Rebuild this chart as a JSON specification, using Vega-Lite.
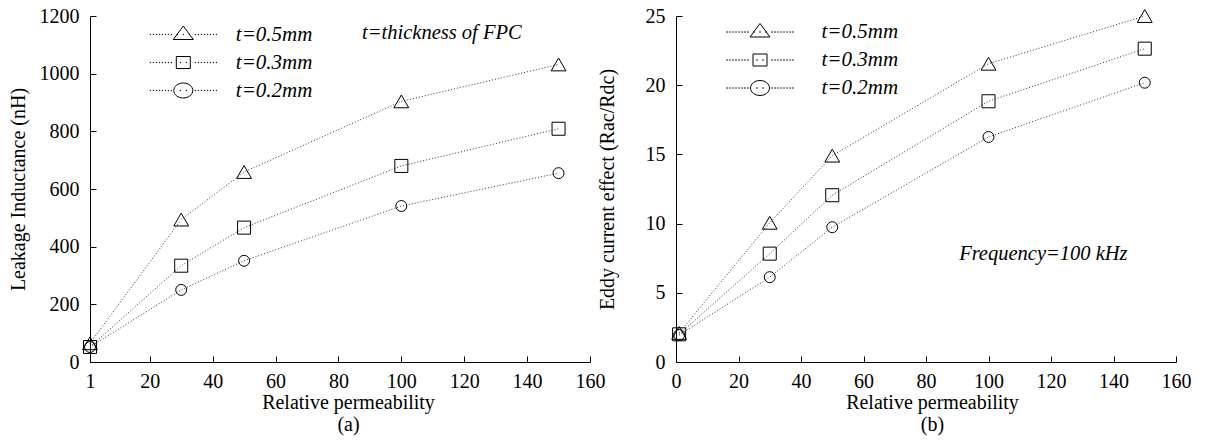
{
  "$schema": "https://vega.github.io/schema/vega-lite/v6.json",
  "padding": {"left": 8, "top": 6, "right": 5, "bottom": 5},
  "background": "white",
  "datasets": {
    "leak": [
      {"t": "t=0.5mm", "mu": 1, "L": 65},
      {"t": "t=0.5mm", "mu": 30, "L": 494},
      {"t": "t=0.5mm", "mu": 50, "L": 659},
      {"t": "t=0.5mm", "mu": 100, "L": 904},
      {"t": "t=0.5mm", "mu": 150, "L": 1032},
      {"t": "t=0.3mm", "mu": 1, "L": 52},
      {"t": "t=0.3mm", "mu": 30, "L": 334},
      {"t": "t=0.3mm", "mu": 50, "L": 466},
      {"t": "t=0.3mm", "mu": 100, "L": 680},
      {"t": "t=0.3mm", "mu": 150, "L": 809},
      {"t": "t=0.2mm", "mu": 1, "L": 52},
      {"t": "t=0.2mm", "mu": 30, "L": 250},
      {"t": "t=0.2mm", "mu": 50, "L": 351},
      {"t": "t=0.2mm", "mu": 100, "L": 541},
      {"t": "t=0.2mm", "mu": 150, "L": 655}
    ],
    "eddy": [
      {"t": "t=0.5mm", "mu": 1, "R": 2.1},
      {"t": "t=0.5mm", "mu": 30, "R": 10.06},
      {"t": "t=0.5mm", "mu": 50, "R": 14.91},
      {"t": "t=0.5mm", "mu": 100, "R": 21.55},
      {"t": "t=0.5mm", "mu": 150, "R": 25.0},
      {"t": "t=0.3mm", "mu": 1, "R": 2.0},
      {"t": "t=0.3mm", "mu": 30, "R": 7.83},
      {"t": "t=0.3mm", "mu": 50, "R": 12.05},
      {"t": "t=0.3mm", "mu": 100, "R": 18.84},
      {"t": "t=0.3mm", "mu": 150, "R": 22.64},
      {"t": "t=0.2mm", "mu": 1, "R": 1.95},
      {"t": "t=0.2mm", "mu": 30, "R": 6.13},
      {"t": "t=0.2mm", "mu": 50, "R": 9.74},
      {"t": "t=0.2mm", "mu": 100, "R": 16.26},
      {"t": "t=0.2mm", "mu": 150, "R": 20.18}
    ]
  },
  "hconcat": [
    {
      "width": 500,
      "height": 346,
      "resolve": {"scale": {"shape": "independent"}, "legend": {"shape": "independent"}},
      "layer": [
        {
          "data": {"name": "leak"},
          "mark": {"type": "line", "stroke": "#333", "strokeWidth": 1, "strokeDash": [1, 2]},
          "encoding": {
            "x": {"field": "mu", "type": "quantitative", "scale": {"domain": [1, 160], "nice": false, "zero": false},
                  "axis": {"values": [1, 20, 40, 60, 80, 100, 120, 140, 160], "title": ["Relative permeability", "(a)"], "titleX": 258}},
            "y": {"field": "L", "type": "quantitative", "scale": {"domain": [0, 1200], "nice": false},
                  "axis": {"values": [0, 200, 400, 600, 800, 1000, 1200], "title": "Leakage Inductance (nH)", "titlePadding": 11}},
            "detail": {"field": "t", "type": "nominal"}
          }
        },
        {
          "data": {"name": "leak"},
          "mark": {"type": "point", "filled": false, "color": "black", "strokeWidth": 1, "opacity": 1},
          "encoding": {
            "x": {"field": "mu", "type": "quantitative"},
            "y": {"field": "L", "type": "quantitative"},
            "shape": {"field": "t", "type": "nominal", "scale": {"domain": ["t=0.5mm", "t=0.3mm", "t=0.2mm"], "range": ["triangle-up", "square", "circle"]}, "legend": null},
            "size": {"field": "t", "type": "ordinal", "sort": "descending", "scale": {"range": [220, 120, 150]}, "legend": null}
          }
        },
        {
          "data": {"name": "leak"},
          "transform": [{"filter": "false"}],
          "mark": {"type": "point", "filled": false, "color": "black", "strokeWidth": 1, "opacity": 0},
          "encoding": {
            "x": {"field": "mu", "type": "quantitative"},
            "y": {"field": "L", "type": "quantitative"},
            "shape": {"field": "t", "type": "nominal",
                  "scale": {"domain": ["t=0.5mm", "t=0.3mm", "t=0.2mm"], "range": [
                    "M0,-8.5L10,5L-10,5ZM-33.25,-0.25h0.5v0.5h-0.5ZM-30.25,-0.25h0.5v0.5h-0.5ZM-27.25,-0.25h0.5v0.5h-0.5ZM-24.25,-0.25h0.5v0.5h-0.5ZM-21.25,-0.25h0.5v0.5h-0.5ZM-18.25,-0.25h0.5v0.5h-0.5ZM-15.25,-0.25h0.5v0.5h-0.5ZM-12.25,-0.25h0.5v0.5h-0.5ZM-6.25,-0.25h0.5v0.5h-0.5ZM-0.25,-0.25h0.5v0.5h-0.5ZM5.75,-0.25h0.5v0.5h-0.5ZM11.75,-0.25h0.5v0.5h-0.5ZM14.75,-0.25h0.5v0.5h-0.5ZM17.75,-0.25h0.5v0.5h-0.5ZM20.75,-0.25h0.5v0.5h-0.5ZM23.75,-0.25h0.5v0.5h-0.5ZM26.75,-0.25h0.5v0.5h-0.5ZM29.75,-0.25h0.5v0.5h-0.5ZM32.75,-0.25h0.5v0.5h-0.5Z",
                    "M-7,-6h14v12h-14ZM-33.25,-0.25h0.5v0.5h-0.5ZM-30.25,-0.25h0.5v0.5h-0.5ZM-27.25,-0.25h0.5v0.5h-0.5ZM-24.25,-0.25h0.5v0.5h-0.5ZM-21.25,-0.25h0.5v0.5h-0.5ZM-18.25,-0.25h0.5v0.5h-0.5ZM-15.25,-0.25h0.5v0.5h-0.5ZM-12.25,-0.25h0.5v0.5h-0.5ZM-3.25,-0.25h0.5v0.5h-0.5ZM2.75,-0.25h0.5v0.5h-0.5ZM11.75,-0.25h0.5v0.5h-0.5ZM14.75,-0.25h0.5v0.5h-0.5ZM17.75,-0.25h0.5v0.5h-0.5ZM20.75,-0.25h0.5v0.5h-0.5ZM23.75,-0.25h0.5v0.5h-0.5ZM26.75,-0.25h0.5v0.5h-0.5ZM29.75,-0.25h0.5v0.5h-0.5ZM32.75,-0.25h0.5v0.5h-0.5Z",
                    "M9.5,0A9.5,7.5 0 1,1 -9.5,0A9.5,7.5 0 1,1 9.5,0ZM-33.25,-0.25h0.5v0.5h-0.5ZM-30.25,-0.25h0.5v0.5h-0.5ZM-27.25,-0.25h0.5v0.5h-0.5ZM-24.25,-0.25h0.5v0.5h-0.5ZM-21.25,-0.25h0.5v0.5h-0.5ZM-18.25,-0.25h0.5v0.5h-0.5ZM-15.25,-0.25h0.5v0.5h-0.5ZM-12.25,-0.25h0.5v0.5h-0.5ZM-3.25,-0.25h0.5v0.5h-0.5ZM2.75,-0.25h0.5v0.5h-0.5ZM11.75,-0.25h0.5v0.5h-0.5ZM14.75,-0.25h0.5v0.5h-0.5ZM17.75,-0.25h0.5v0.5h-0.5ZM20.75,-0.25h0.5v0.5h-0.5ZM23.75,-0.25h0.5v0.5h-0.5ZM26.75,-0.25h0.5v0.5h-0.5ZM29.75,-0.25h0.5v0.5h-0.5ZM32.75,-0.25h0.5v0.5h-0.5Z"
                  ]},
                  "legend": {"orient": "none", "legendX": 82.8, "legendY": 8, "title": null, "rowPadding": 6, "labelOffset": 42, "padding": 0,
                             "labelFontStyle": "italic", "labelFontSize": 21, "labelColor": "black", "symbolOpacity": 1,
                             "symbolStrokeColor": "black", "symbolStrokeWidth": 1, "symbolFillColor": "transparent", "symbolSize": 4}}
          }
        },
        {
          "data": {"values": [{}]},
          "mark": {"type": "text", "fontSize": 20.5, "fontStyle": "italic", "align": "left", "baseline": "middle", "color": "black"},
          "encoding": {
            "x": {"datum": 87.5},
            "y": {"datum": 1140},
            "text": {"value": "t=thickness of FPC"}
          }
        }
      ]
    },
    {
      "width": 500,
      "height": 346,
      "resolve": {"scale": {"shape": "independent"}, "legend": {"shape": "independent"}},
      "layer": [
        {
          "data": {"name": "eddy"},
          "mark": {"type": "line", "stroke": "#333", "strokeWidth": 1, "strokeDash": [1, 2]},
          "encoding": {
            "x": {"field": "mu", "type": "quantitative", "scale": {"domain": [0, 160], "nice": false, "zero": false},
                  "axis": {"values": [0, 20, 40, 60, 80, 100, 120, 140, 160], "title": ["Relative permeability", "(b)"], "titleX": 256}},
            "y": {"field": "R", "type": "quantitative", "scale": {"domain": [0, 25], "nice": false},
                  "axis": {"values": [0, 5, 10, 15, 20, 25], "title": "Eddy current effect (Rac/Rdc)", "titlePadding": 28}},
            "detail": {"field": "t", "type": "nominal"}
          }
        },
        {
          "data": {"name": "eddy"},
          "mark": {"type": "point", "filled": false, "color": "black", "strokeWidth": 1, "opacity": 1},
          "encoding": {
            "x": {"field": "mu", "type": "quantitative"},
            "y": {"field": "R", "type": "quantitative"},
            "shape": {"field": "t", "type": "nominal", "scale": {"domain": ["t=0.5mm", "t=0.3mm", "t=0.2mm"], "range": ["triangle-up", "square", "circle"]}, "legend": null},
            "size": {"field": "t", "type": "ordinal", "sort": "descending", "scale": {"range": [220, 120, 150]}, "legend": null}
          }
        },
        {
          "data": {"name": "eddy"},
          "transform": [{"filter": "false"}],
          "mark": {"type": "point", "filled": false, "color": "black", "strokeWidth": 1, "opacity": 0},
          "encoding": {
            "x": {"field": "mu", "type": "quantitative"},
            "y": {"field": "R", "type": "quantitative"},
            "shape": {"field": "t", "type": "nominal",
                  "scale": {"domain": ["t=0.5mm", "t=0.3mm", "t=0.2mm"], "range": [
                    "M0,-8.5L10,5L-10,5ZM-33.25,-0.25h0.5v0.5h-0.5ZM-30.25,-0.25h0.5v0.5h-0.5ZM-27.25,-0.25h0.5v0.5h-0.5ZM-24.25,-0.25h0.5v0.5h-0.5ZM-21.25,-0.25h0.5v0.5h-0.5ZM-18.25,-0.25h0.5v0.5h-0.5ZM-15.25,-0.25h0.5v0.5h-0.5ZM-12.25,-0.25h0.5v0.5h-0.5ZM-6.25,-0.25h0.5v0.5h-0.5ZM-0.25,-0.25h0.5v0.5h-0.5ZM5.75,-0.25h0.5v0.5h-0.5ZM11.75,-0.25h0.5v0.5h-0.5ZM14.75,-0.25h0.5v0.5h-0.5ZM17.75,-0.25h0.5v0.5h-0.5ZM20.75,-0.25h0.5v0.5h-0.5ZM23.75,-0.25h0.5v0.5h-0.5ZM26.75,-0.25h0.5v0.5h-0.5ZM29.75,-0.25h0.5v0.5h-0.5ZM32.75,-0.25h0.5v0.5h-0.5Z",
                    "M-7,-6h14v12h-14ZM-33.25,-0.25h0.5v0.5h-0.5ZM-30.25,-0.25h0.5v0.5h-0.5ZM-27.25,-0.25h0.5v0.5h-0.5ZM-24.25,-0.25h0.5v0.5h-0.5ZM-21.25,-0.25h0.5v0.5h-0.5ZM-18.25,-0.25h0.5v0.5h-0.5ZM-15.25,-0.25h0.5v0.5h-0.5ZM-12.25,-0.25h0.5v0.5h-0.5ZM-3.25,-0.25h0.5v0.5h-0.5ZM2.75,-0.25h0.5v0.5h-0.5ZM11.75,-0.25h0.5v0.5h-0.5ZM14.75,-0.25h0.5v0.5h-0.5ZM17.75,-0.25h0.5v0.5h-0.5ZM20.75,-0.25h0.5v0.5h-0.5ZM23.75,-0.25h0.5v0.5h-0.5ZM26.75,-0.25h0.5v0.5h-0.5ZM29.75,-0.25h0.5v0.5h-0.5ZM32.75,-0.25h0.5v0.5h-0.5Z",
                    "M9.5,0A9.5,7.5 0 1,1 -9.5,0A9.5,7.5 0 1,1 9.5,0ZM-33.25,-0.25h0.5v0.5h-0.5ZM-30.25,-0.25h0.5v0.5h-0.5ZM-27.25,-0.25h0.5v0.5h-0.5ZM-24.25,-0.25h0.5v0.5h-0.5ZM-21.25,-0.25h0.5v0.5h-0.5ZM-18.25,-0.25h0.5v0.5h-0.5ZM-15.25,-0.25h0.5v0.5h-0.5ZM-12.25,-0.25h0.5v0.5h-0.5ZM-3.25,-0.25h0.5v0.5h-0.5ZM2.75,-0.25h0.5v0.5h-0.5ZM11.75,-0.25h0.5v0.5h-0.5ZM14.75,-0.25h0.5v0.5h-0.5ZM17.75,-0.25h0.5v0.5h-0.5ZM20.75,-0.25h0.5v0.5h-0.5ZM23.75,-0.25h0.5v0.5h-0.5ZM26.75,-0.25h0.5v0.5h-0.5ZM29.75,-0.25h0.5v0.5h-0.5ZM32.75,-0.25h0.5v0.5h-0.5Z"
                  ]},
                  "legend": {"orient": "none", "legendX": 73.5, "legendY": 5.5, "title": null, "rowPadding": 6, "labelOffset": 51, "padding": 0,
                             "labelFontStyle": "italic", "labelFontSize": 21, "labelColor": "black", "symbolOpacity": 1,
                             "symbolStrokeColor": "black", "symbolStrokeWidth": 1, "symbolFillColor": "transparent", "symbolSize": 4}}
          }
        },
        {
          "data": {"values": [{}]},
          "mark": {"type": "text", "fontSize": 20.5, "fontStyle": "italic", "align": "left", "baseline": "middle", "color": "black"},
          "encoding": {
            "x": {"datum": 90.6},
            "y": {"datum": 7.83},
            "text": {"value": "Frequency=100 kHz"}
          }
        }
      ]
    }
  ],
  "spacing": 86,
  "bounds": "flush",
  "resolve": {
    "scale": {"shape": "independent", "size": "independent"},
    "legend": {"shape": "independent"}
  },
  "config": {
    "font": "Liberation Serif",
    "view": {"stroke": null},
    "text": {"font": "Liberation Serif"},
    "axis": {
      "labelFont": "Liberation Serif", "titleFont": "Liberation Serif",
      "labelFontSize": 20, "titleFontSize": 20, "titleFontWeight": "normal", "format": "d",
      "labelColor": "black", "titleColor": "black", "domainColor": "black", "tickColor": "black",
      "grid": false, "tickSize": -6, "labelPadding": 17, "labelFlush": false, "labelOverlap": false,
      "domainWidth": 1, "tickWidth": 1, "titleLineHeight": 22
    },
    "axisX": {"titlePadding": 1, "labelPadding": 15},
    "legend": {"labelFont": "Liberation Serif"}
  }
}
